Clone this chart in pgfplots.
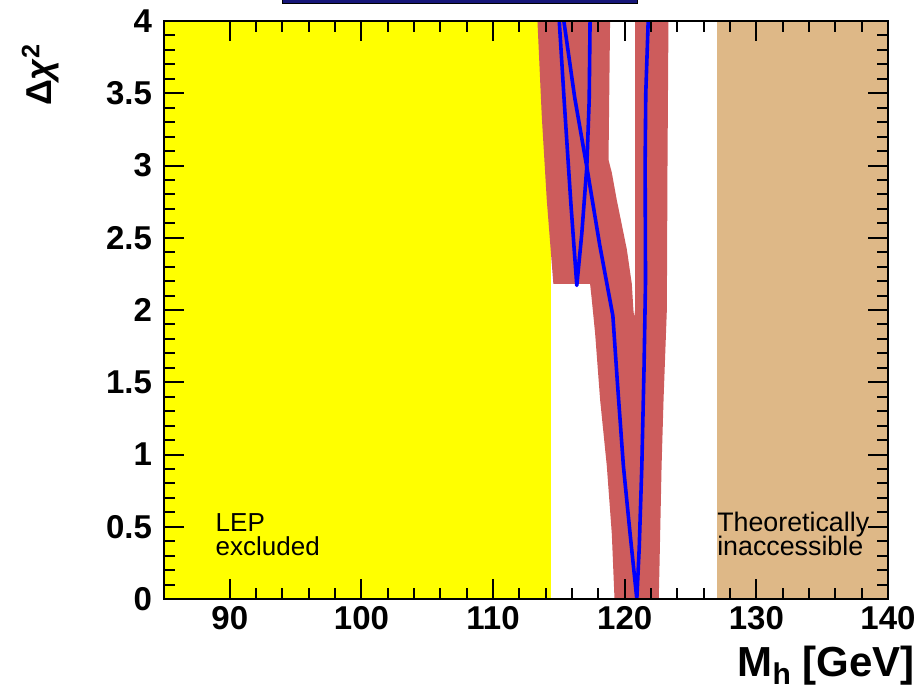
\documentclass[border=0pt]{standalone}
\usepackage{fontspec}
\setmainfont{Liberation Sans}
\usepackage{pgfplots}
\pgfplotsset{compat=1.18}

\definecolor{lepyellow}{RGB}{255,255,0}
\definecolor{theobeige}{RGB}{222,184,135}
\definecolor{bandred}{RGB}{205,92,92}
\definecolor{curveblue}{RGB}{0,0,255}
\definecolor{navybar}{RGB}{22,22,120}

\begin{document}
\begin{tikzpicture}
\path[use as bounding box] (-82pt,-46.5pt) rectangle (379.5pt,299.5pt);
\begin{axis}[
  at={(0,0)}, anchor=south west,
  scale only axis, width=362pt, height=289pt,
  xmin=85, xmax=140, ymin=0, ymax=4,
  xtick={90,100,...,140}, ytick={0,0.5,...,4},
  minor x tick num=4, minor y tick num=4,
  tick align=inside,
  xtick pos=both, ytick pos=both,
  major tick length=10pt, minor tick length=5.5pt,
  every tick/.style={black, line width=1pt},
  axis line style={line width=1pt},
  /pgf/number format/assume math mode=true,
  tick label style={font=\bfseries\fontsize{16.5}{16.5}\selectfont},
  yticklabel style={xshift=-2.5pt},
  axis on top,
]
% excluded / inaccessible regions
\addplot[fill=lepyellow, draw=none] coordinates {(84,-0.1) (114.4,-0.1) (114.4,4.1) (84,4.1)} --cycle;
\addplot[fill=theobeige, draw=none] coordinates {(127,-0.1) (141,-0.1) (141,4.1) (127,4.1)} --cycle;

% theory uncertainty band
\addplot[fill=bandred, draw=none] coordinates {
  (113.30,4.1) (118.90,4.1) (118.82,3.45) (118.77,3.04) (119.02,2.95)
  (119.40,2.76) (120.16,2.42) (120.54,2.18) (120.66,2.00) (120.72,1.95)
  (120.79,2.00) (120.79,4.1) (123.33,4.1) (123.25,3.0) (123.20,2.00)
  (122.95,1.38) (122.80,0.92) (122.64,0.22) (122.56,-0.1) (119.27,-0.1)
  (119.02,0.45) (118.64,0.92) (118.13,1.38) (117.75,1.84) (117.50,2.07)
  (117.37,2.18) (114.58,2.18) (114.08,2.76) (113.70,3.34) (113.37,4.0)
} --cycle;

% fit curve, low-mass branch
\addplot[curveblue, line width=1.8pt, line join=round] coordinates {
  (114.96,4.1) (115.40,3.45) (115.90,2.75) (116.36,2.17)
  (116.74,2.53) (117.12,2.99) (117.30,3.45) (117.38,4.1)
};
% fit curve, main branch
\addplot[curveblue, line width=1.8pt, line join=round] coordinates {
  (115.22,4.1) (116.20,3.47) (117.12,2.99) (118.10,2.45) (119.10,1.96)
  (119.45,1.49) (119.90,0.92) (120.41,0.45) (120.92,0.0)
  (121.10,0.35) (121.30,0.92) (121.47,1.61) (121.58,2.20)
  (121.55,3.00) (121.60,3.50) (121.82,4.1)
};

\node[anchor=base west, inner sep=0pt, font=\fontsize{13}{13}\selectfont] at (axis cs:88.9,0.47) {LEP};
\node[anchor=base west, inner sep=0pt, font=\fontsize{13}{13}\selectfont] at (axis cs:88.9,0.30) {excluded};
\node[anchor=base west, inner sep=0pt, font=\fontsize{13.4}{13.4}\selectfont] at (axis cs:127.0,0.47) {Theoretically};
\node[anchor=base west, inner sep=0pt, font=\fontsize{13.4}{13.4}\selectfont] at (axis cs:127.0,0.30) {inaccessible};
\end{axis}
% axis titles
\node[anchor=base east, inner sep=0pt, font=\bfseries\fontsize{21}{21}\selectfont]
  at (375.5pt,-38.5pt) {M\raisebox{-0.2em}{\fontsize{15}{15}\selectfont h} [GeV]};
\node[anchor=base east, inner sep=0pt, rotate=90, font=\bfseries\fontsize{18}{18}\selectfont]
  at (-56pt,278pt) {Δ\textit{χ}\textsuperscript{2}};
\fill[navybar, draw=black, line width=0.5pt] (59.5pt,297.8pt) rectangle (236.5pt,302pt);
\end{tikzpicture}
\end{document}
